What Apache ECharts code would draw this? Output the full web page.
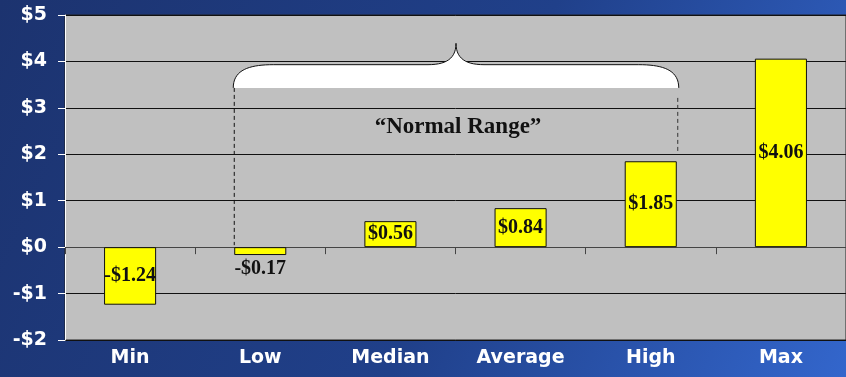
<!DOCTYPE html>
<html>
<head>
<meta charset="utf-8">
<script src="https://cdn.jsdelivr.net/npm/echarts@6/dist/echarts.min.js"></script>
<style>
  html, body { margin: 0; padding: 0; }
  #chart { width: 846px; height: 377px; }
</style>
</head>
<body>
<div id="chart"></div>
<script>
const categories = ['Min', 'Low', 'Median', 'Average', 'High', 'Max'];
const values = [-1.24, -0.17, 0.56, 0.84, 1.85, 4.06];
const labelPos = ['inside', 'bottom', 'inside', 'inside', 'inside', 'inside'];
const yTicks = [-2, -1, 0, 1, 2, 3, 4, 5];
const rangeText = '\u201CNormal Range\u201D';

const money = v => (v < 0 ? '-$' : '$') + Math.abs(v).toFixed(2);

const myChart = echarts.init(document.getElementById('chart'));

myChart.setOption({
    animation: false,
    backgroundColor: {
        type: 'linear', x: 0, y: 0, x2: 1, y2: 1,
        colorStops: [
            {offset: 0, color: '#1C336F'},
            {offset: 0.55, color: '#20408A'},
            {offset: 1, color: '#3366CC'}
        ]
    },
    grid: {
        left: 65,
        right: -3,
        top: 15,
        bottom: 37,
        show: true,
        backgroundColor: '#C0C0C0',
        borderColor: '#222',
        borderWidth: 1
    },
    xAxis: [
        {
            type: 'category',
            data: categories,
            axisLine: {onZero: true, lineStyle: {color: '#444'}},
            axisTick: {show: true, length: 7, lineStyle: {color: '#444'}},
            axisLabel: {show: false}
        },
        {
            type: 'category',
            data: categories,
            position: 'bottom',
            axisLine: {show: false, onZero: false},
            axisTick: {show: false},
            axisLabel: {
                color: '#fff',
                fontFamily: 'DejaVu Sans',
                fontWeight: 'bold',
                fontSize: 19,
                margin: 9
            }
        }
    ],
    yAxis: {
        type: 'value',
        min: yTicks[0],
        max: yTicks[yTicks.length - 1],
        interval: 1,
        axisLine: {show: true, lineStyle: {color: '#fff'}},
        axisTick: {show: true, length: 7, lineStyle: {color: '#fff'}},
        axisLabel: {
            color: '#fff',
            fontFamily: 'DejaVu Sans',
            fontWeight: 'bold',
            fontSize: 19,
            margin: 18,
            formatter: v => (v < 0 ? '-$' : '$') + Math.abs(v)
        },
        splitLine: {show: true, lineStyle: {color: '#111', width: 1}}
    },
    series: [{
        type: 'bar',
        xAxisIndex: 0,
        barWidth: '40%',
        data: values.map((v, i) => ({
            value: v,
            label: {position: labelPos[i], distance: 4}
        })),
        itemStyle: {color: '#FFFF00', borderColor: '#111', borderWidth: 1},
        label: {
            show: true,
            color: '#111',
            fontFamily: 'Liberation Serif',
            fontWeight: 'bold',
            fontSize: 20,
            formatter: p => money(p.value)
        }
    }]
});

// brace annotation over Low..High
const half = 27;
const xL = myChart.convertToPixel({xAxisIndex: 0}, 'Low') - half;
const xR = myChart.convertToPixel({xAxisIndex: 0}, 'High') + half + 1;
const yBot = myChart.convertToPixel({yAxisIndex: 0}, 3.43);
const yFlat = myChart.convertToPixel({yAxisIndex: 0}, 3.93);
const yPeak = myChart.convertToPixel({yAxisIndex: 0}, 4.39);
const yZero = myChart.convertToPixel({yAxisIndex: 0}, 0);
const xMid = (xL + xR) / 2;

function cubic(p0, p1, p2, p3, n) {
    const pts = [];
    for (let i = 1; i <= n; i++) {
        const t = i / n, u = 1 - t;
        pts.push([
            u * u * u * p0[0] + 3 * u * u * t * p1[0] + 3 * u * t * t * p2[0] + t * t * t * p3[0],
            u * u * u * p0[1] + 3 * u * u * t * p1[1] + 3 * u * t * t * p2[1] + t * t * t * p3[1]
        ]);
    }
    return pts;
}

let bracePts = [[xL, yBot]];
bracePts = bracePts.concat(cubic([xL, yBot], [xL, yBot - 18], [xL + 16, yFlat], [xL + 40, yFlat], 18));
bracePts.push([xMid - 28, yFlat]);
bracePts = bracePts.concat(cubic([xMid - 28, yFlat], [xMid - 10, yFlat], [xMid, yFlat - 6], [xMid, yPeak], 14));
bracePts = bracePts.concat(cubic([xMid, yPeak], [xMid, yFlat - 6], [xMid + 10, yFlat], [xMid + 28, yFlat], 14));
bracePts.push([xR - 40, yFlat]);
bracePts = bracePts.concat(cubic([xR - 40, yFlat], [xR - 16, yFlat], [xR, yBot - 18], [xR, yBot], 18));

myChart.setOption({
    graphic: [
        {type: 'polygon', shape: {points: bracePts}, style: {fill: '#fff', stroke: null}, z: 10},
        {type: 'polyline', shape: {points: bracePts}, style: {fill: null, stroke: '#111', lineWidth: 1}, z: 11},
        {
            type: 'line',
            shape: {x1: xL + 1, y1: yBot, x2: xL + 1, y2: yZero - 2},
            style: {stroke: '#111', lineWidth: 1, lineDash: [4, 3]}, z: 11
        },
        {
            type: 'line',
            shape: {x1: xR - 1, y1: yBot + 10, x2: xR - 1, y2: myChart.convertToPixel({yAxisIndex: 0}, 2.07)},
            style: {stroke: '#333', lineWidth: 1, lineDash: [4, 3]}, z: 11
        },
        {
            type: 'text',
            x: xMid + 2,
            y: myChart.convertToPixel({yAxisIndex: 0}, 2.58),
            style: {
                text: rangeText,
                fill: '#111',
                font: 'bold 23px "Liberation Serif"',
                align: 'center',
                verticalAlign: 'middle'
            },
            z: 11
        }
    ]
});
</script>
</body>
</html>
